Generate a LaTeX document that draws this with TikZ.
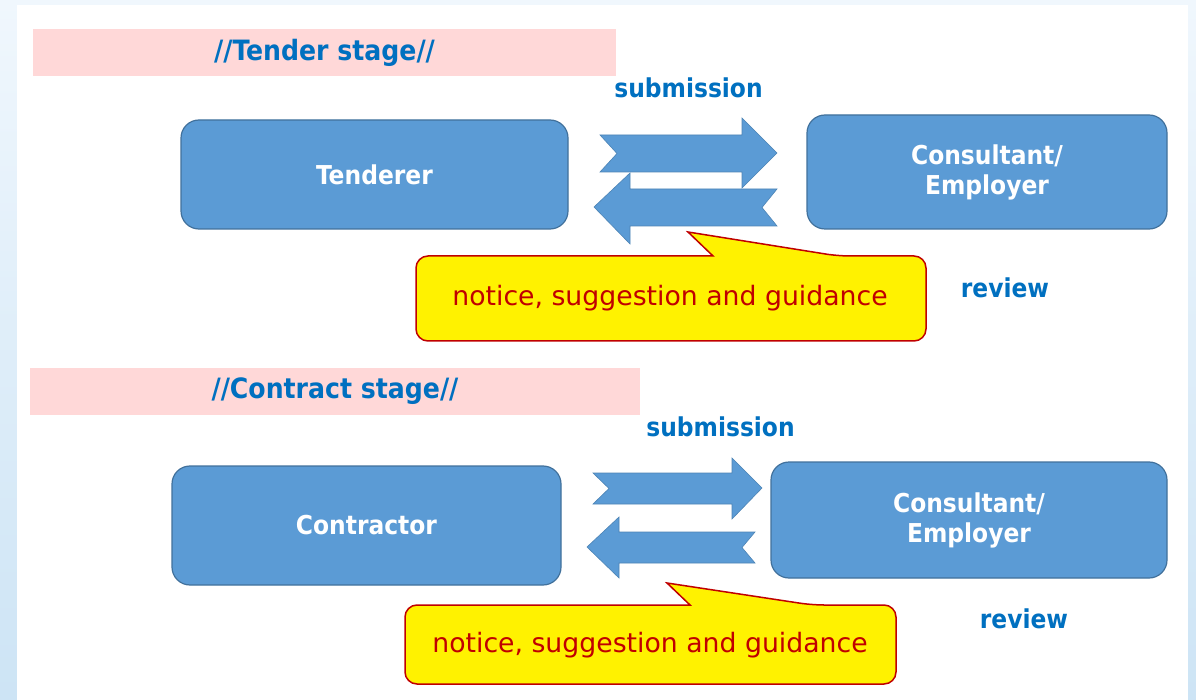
\documentclass[tikz,border=0pt]{standalone}
\usepackage{fontspec}
\setmainfont{DejaVu Sans}
\newfontfamily\condfont{DejaVu Sans Condensed}
\usetikzlibrary{positioning}

\definecolor{boxblue}{HTML}{5B9BD5}
\definecolor{boxedge}{HTML}{41719C}
\definecolor{bandpink}{HTML}{FFD8D8}
\definecolor{labelblue}{HTML}{0070C0}
\definecolor{notered}{HTML}{C00000}
\definecolor{bgtop}{HTML}{F0F7FD}
\definecolor{bgbottom}{HTML}{CDE4F5}

\begin{document}
\begin{tikzpicture}[
    x=1pt, y=-1pt,
    party/.style={rectangle, draw=boxedge, line width=1.2pt, fill=boxblue, rounded corners=18pt, inner sep=0pt, text=white, align=center, font=\condfont\bfseries\fontsize{26}{30}\selectfont},
    band/.style={rectangle, fill=bandpink, inner sep=0pt, minimum height=47pt, text=labelblue, font=\condfont\bfseries\fontsize{28}{32}\selectfont},
    flowlabel/.style={text=labelblue, inner sep=0pt, font=\condfont\bfseries\fontsize{26}{30}\selectfont},
    blockarrow/.style={fill=boxblue, draw=boxblue!85!black, line width=0.6pt},
    callout/.style={fill=yellow, draw=notered, line width=1.5pt},
    notetext/.style={text=notered, inner sep=0pt, font=\fontsize{26.7}{30}\selectfont}
  ]
    % Frame
    \useasboundingbox (0,0) rectangle (1196,700);
    \shade[top color=bgtop, bottom color=bgbottom] (0,0) rectangle (1196,700);
    \fill[white] (17,5) rectangle (1188,700);

    % Tender stage
    \node[band, minimum width=583pt] (tenderband) at (324.5,52.5) {//Tender stage//};
    \node[flowlabel] (submit1) at (688.5,88) {submission};
    \node[party, minimum width=387pt, minimum height=109pt] (tenderer) at (374.5,174.5) {Tenderer};
    \node[party, minimum width=360pt, minimum height=114pt] (consult1) at (987,172) {Consultant/\\Employer};
    \path[blockarrow] (600,135) -- (742,135) -- (742,118) -- (777,153) -- (742,188) -- (742,172) -- (600,172) -- (617,153.5) -- cycle;
    \path[blockarrow] (777,189) -- (630,189) -- (630,173) -- (594,207) -- (630,244) -- (630,226) -- (777,226) -- (762,207.5) -- cycle;
    \path[callout] (600,256) [rounded corners=12pt] -- (416,256) -- (416,341) -- (926,341) -- (926,256) -- (838,256) [sharp corners] -- (688,232) -- (713,256) -- cycle;
    \node[notetext] (note1) at (670,298.5) {notice, suggestion and guidance};
    \node[flowlabel] (review1) at (1005,288) {review};

    % Contract stage
    \node[band, minimum width=610pt] (contractband) at (335,391.5) {//Contract stage//};
    \node[flowlabel] (submit2) at (720.5,427) {submission};
    \node[party, minimum width=389pt, minimum height=119pt] (contractor) at (366.5,525.5) {Contractor};
    \node[party, minimum width=396pt, minimum height=116pt] (consult2) at (969,520) {Consultant/\\Employer};
    \path[blockarrow] (593,473) -- (732,473) -- (732,458) -- (762,488) -- (732,519) -- (732,504) -- (593,504) -- (609,488.5) -- cycle;
    \path[blockarrow] (755,532) -- (619,532) -- (619,517) -- (587,547) -- (619,578) -- (619,563) -- (755,563) -- (742,547.5) -- cycle;
    \path[callout] (550,605) [rounded corners=12pt] -- (405,605) -- (405,684) -- (896,684) -- (896,605) -- (812,605) [sharp corners] -- (667,583) -- (690,605) -- cycle;
    \node[notetext] (note2) at (650,645) {notice, suggestion and guidance};
    \node[flowlabel] (review2) at (1024,619) {review};
\end{tikzpicture}
\end{document}
